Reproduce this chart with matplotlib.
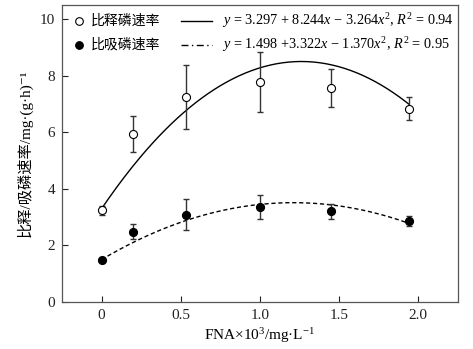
import numpy as np
import matplotlib
matplotlib.use("Agg")
import matplotlib.pyplot as plt

plt.rcParams['font.family'] = ['Liberation Serif', 'Noto Sans CJK SC']
plt.rcParams['mathtext.fontset'] = 'custom'
plt.rcParams['mathtext.rm'] = 'Liberation Serif'
plt.rcParams['mathtext.it'] = 'Liberation Serif:italic'

# data
fna = [0.0, 0.2, 0.535, 1.0, 1.45, 1.944]
release = [3.24, 5.95, 7.25, 7.78, 7.58, 6.84]
release_err = [0.15, 0.63, 1.14, 1.05, 0.67, 0.42]
uptake = [1.48, 2.49, 3.09, 3.37, 3.20, 2.87]
uptake_err = [0.05, 0.26, 0.56, 0.42, 0.26, 0.18]
coef_release = [3.297, 8.244, -3.264]
coef_uptake = [1.498, 3.322, -1.370]
xticks = [0, 0.5, 1.0, 1.5, 2.0]
xticklabels = ['0', '0.5', '1.0', '1.5', '2.0']
yticks = [0, 2, 4, 6, 8, 10]
labels = ['比释磷速率', '比吸磷速率']
eqs = [r'$y$ = 3.297 + 8.244$x$ − 3.264$x^2$, $R^2$ = 0.94',
       r'$y$ = 1.498 +3.322$x$ − 1.370$x^2$, $R^2$ = 0.95']

fig = plt.figure(figsize=(4.73, 3.49), dpi=100)
ax = fig.add_axes([62/473, 47/349, (457.5-62)/473, (302-5)/349])

xs = np.linspace(fna[0], fna[-1], 200)
yr = coef_release[0] + coef_release[1]*xs + coef_release[2]*xs**2
yu = coef_uptake[0] + coef_uptake[1]*xs + coef_uptake[2]*xs**2
ax.plot(xs, yr, color='black', lw=1.0, zorder=2)
ax.plot(xs, yu, color='black', lw=1.0, dashes=(3, 2), zorder=2)

ax.errorbar(fna, release, yerr=release_err, fmt='none', ecolor='#333333',
            elinewidth=1.0, capsize=2.2, capthick=1.0, zorder=3)
ax.errorbar(fna, uptake, yerr=uptake_err, fmt='none', ecolor='#333333',
            elinewidth=1.0, capsize=2.2, capthick=1.0, zorder=3)
ax.plot(fna, release, 'o', ms=5.8, mfc='white', mec='black', mew=0.8, zorder=4)
ax.plot(fna, uptake, 'o', ms=5.8, mfc='black', mec='black', mew=0.8, zorder=4)

ax.set_xlim(-0.25, 2.25)
ax.set_ylim(0, 10.5)
ax.set_xticks(xticks)
ax.set_xticklabels(xticklabels)
ax.set_yticks(yticks)
ax.tick_params(direction='in', length=4, width=0.8, labelsize=11, colors='#222222', pad=5)
for s in ax.spines.values():
    s.set_color('#555555')
    s.set_linewidth(0.9)

ax.set_xlabel('FNA×10$^3$/mg·L$^{-1}$', fontsize=11, labelpad=3)
ax.set_ylabel('比释/吸磷速率/mg·(g·h)⁻¹', fontsize=11, labelpad=5,
              family=['Liberation Serif', 'DejaVu Serif', 'Noto Sans CJK SC'])

# legend drawn in figure pixel coordinates
def fx(px):
    return px / 473
def fy(py):
    return 1 - py / 349

rows_y = [20.5, 44.5]
mfcs = ['white', 'black']
for i in range(2):
    yy = rows_y[i]
    fig.add_artist(plt.Line2D([fx(79)], [fy(yy)], marker='o', ms=5.5,
                              mfc=mfcs[i], mec='black', mew=0.8, ls='none'))
    fig.text(fx(91), fy(yy), labels[i], fontsize=10, va='center', ha='left',
             family=['Noto Sans CJK SC', 'DejaVu Sans'])
    ls = '-' if i == 0 else (0, (5, 2.5, 1, 2.5))
    fig.add_artist(plt.Line2D([fx(181), fx(212)], [fy(yy), fy(yy)], color='black',
                              lw=1.0, ls=ls))
    fig.text(fx(222), fy(yy), eqs[i], fontsize=10.3, va='center', ha='left')

fig.savefig('out.png', dpi=100)
